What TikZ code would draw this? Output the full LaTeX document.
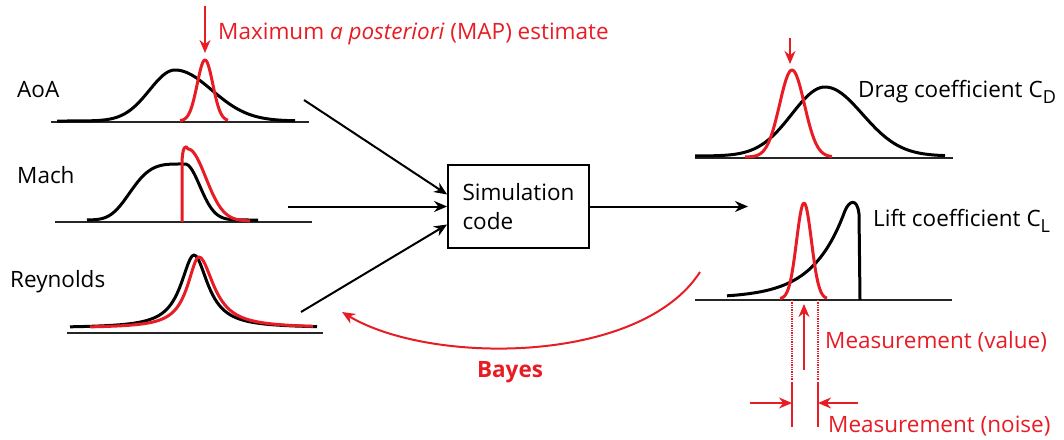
\documentclass[tikz,border=0pt]{standalone}
\usepackage{fontspec}
\setmainfont{Open Sans}
\usetikzlibrary{arrows.meta,positioning}
\definecolor{mapred}{RGB}{232,28,36}

\begin{document}
\begin{tikzpicture}[
    x=1pt, y=-1pt,
    declare function={gs(\u)=exp(-min(\u*\u,20)); lz(\u)=1/(1+\u*\u);
      ff(\u)=exp(-min(\u*\u*\u*\u,20));},
    prior/.style={black, line width=3pt, line join=round},
    post/.style={mapred, line width=3pt, line join=round},
    axisline/.style={black!85, line width=2pt},
    flow/.style={-{Stealth[length=13pt,width=11pt]}, line width=2pt},
    redarrow/.style={-{Stealth[length=13pt,width=11pt]}, mapred, line width=2pt},
    lbl/.style={inner sep=0pt, font=\fontsize{22.5}{27}\selectfont},
    simbox/.style={draw, line width=1.8pt, minimum width=141pt, minimum height=83pt,
      align=left, font=\fontsize{22.5}{29}\selectfont}
    ]
    \useasboundingbox (0,0) rectangle (1064,439);

    % inputs
    \node[lbl, anchor=base west] (aoa) at (17,97) {AoA};
    \node[lbl, anchor=base west] (mach) at (17,183) {Mach};
    \node[lbl, anchor=base west] (rey) at (10,287) {Reynolds};

    \draw[axisline] (51,122) -- (309,122);
    \draw[prior] plot[domain=57:175, samples=50] (\x,{121-51*gs((\x-175)/36)})
      -- plot[domain=175:295, samples=50] (\x,{121-51*gs((\x-175)/52)});
    \draw[post] plot[domain=180:228, samples=50] (\x,{121-61*gs((\x-205)/11)});

    \draw[axisline] (55,222) -- (312,222);
    \draw[prior] plot[domain=87:185, samples=50] (\x,{220-56*ff((\x-185)/60)})
      -- plot[domain=185:258, samples=50] (\x,{220-56*gs((\x-185)/21)});
    \draw[post] (182,222) -- (182,165) .. controls (182,146) and (186,144) .. (188,149)
      -- plot[domain=188:250, samples=50] (\x,{221-72*gs((\x-188)/25)});

    \draw[axisline] (67,333) -- (323,333);
    \draw[prior] plot[domain=70:194, samples=60] (\x,{328-73*lz((\x-194)/16)})
      -- plot[domain=194:317, samples=60] (\x,{328-73*lz((\x-194)/17)});
    \draw[post] plot[domain=90:199, samples=60] (\x,{328-71*lz((\x-199)/14)})
      -- plot[domain=199:313, samples=60] (\x,{328-71*lz((\x-199)/18)});

    \draw[redarrow] (205,6) -- (205,53);
    \node[lbl, anchor=base west, text=mapred] (map) at (218,39)
      {Maximum \textit{a posteriori} (MAP) estimate};

    % simulation
    \node[simbox] (sim) at (518.5,206.5) {Simulation\\code};
    \coordinate (aoa out) at (304,100);
    \coordinate (mach out) at (288,206.5);
    \coordinate (rey out) at (301,312);
    \coordinate (cl in) at (748,206.5);
    \draw[flow] (aoa out) -- ([yshift=12pt]sim.west);
    \draw[flow] (mach out) -- (sim.west);
    \draw[flow] (rey out) -- ([yshift=-18pt]sim.west);
    \draw[flow] (sim.east) -- (cl in);

    % outputs
    \draw[axisline] (695,158) -- (953,158);
    \draw[prior] plot[domain=695:825, samples=50] (\x,{156-69*gs((\x-825)/47)})
      -- plot[domain=825:945, samples=50] (\x,{156-69*gs((\x-825)/53)});
    \draw[post] plot[domain=745:832, samples=50] (\x,{157-87*gs((\x-792)/17.5)});
    \draw[redarrow] (790,38) -- (790,64);
    \node[lbl, anchor=base west] (cd) at (858,97)
      {Drag coefficient C\raisebox{-0.55ex}{\fontsize{18}{18}\selectfont D}};

    \draw[axisline] (695,300) -- (952,300);
    \draw[prior] plot[domain=727:845, samples=50] (\x,{298-93*exp((\x-847)/32)})
      .. controls (849,201) and (857,197) .. (859,214) -- (860,300);
    \draw[post] plot[domain=780:827, samples=50] (\x,{299-96*gs((\x-804)/10.5)});
    \node[lbl, anchor=base west] (cl) at (873,226)
      {Lift coefficient C\raisebox{-0.55ex}{\fontsize{18}{18}\selectfont L}};

    % measurement
    \draw[mapred, line width=1.3pt, densely dotted] (792,300) -- (792,380);
    \draw[mapred, line width=1.3pt, densely dotted] (818,300) -- (818,380);
    \draw[mapred, line width=1.5pt] (792,382) -- (792,427);
    \draw[mapred, line width=1.5pt] (818,382) -- (818,427);
    \coordinate (val foot) at (804,370);
    \coordinate (val tip) at (804,304);
    \draw[redarrow] (val foot) -- (val tip);
    \node[lbl, anchor=base west, text=mapred] (mval) at (825,348) {Measurement (value)};
    \coordinate (nl) at (750,403);
    \coordinate (nr) at (858,403);
    \draw[redarrow] (nl) -- (792,403);
    \draw[redarrow] (nr) -- (818,403);
    \node[lbl, anchor=base west, text=mapred] (mnoise) at (828,432) {Measurement (noise)};

    % bayes
    \coordinate (bayes start) at (700,272);
    \coordinate (bayes end) at (342,312);
    \draw[redarrow] (bayes start) .. controls (640,365) and (430,365) .. (bayes end);
    \node[lbl, anchor=base, text=mapred, font=\fontsize{22.5}{27}\selectfont\bfseries] (bayes) at (510,377) {Bayes};
\end{tikzpicture}
\end{document}
